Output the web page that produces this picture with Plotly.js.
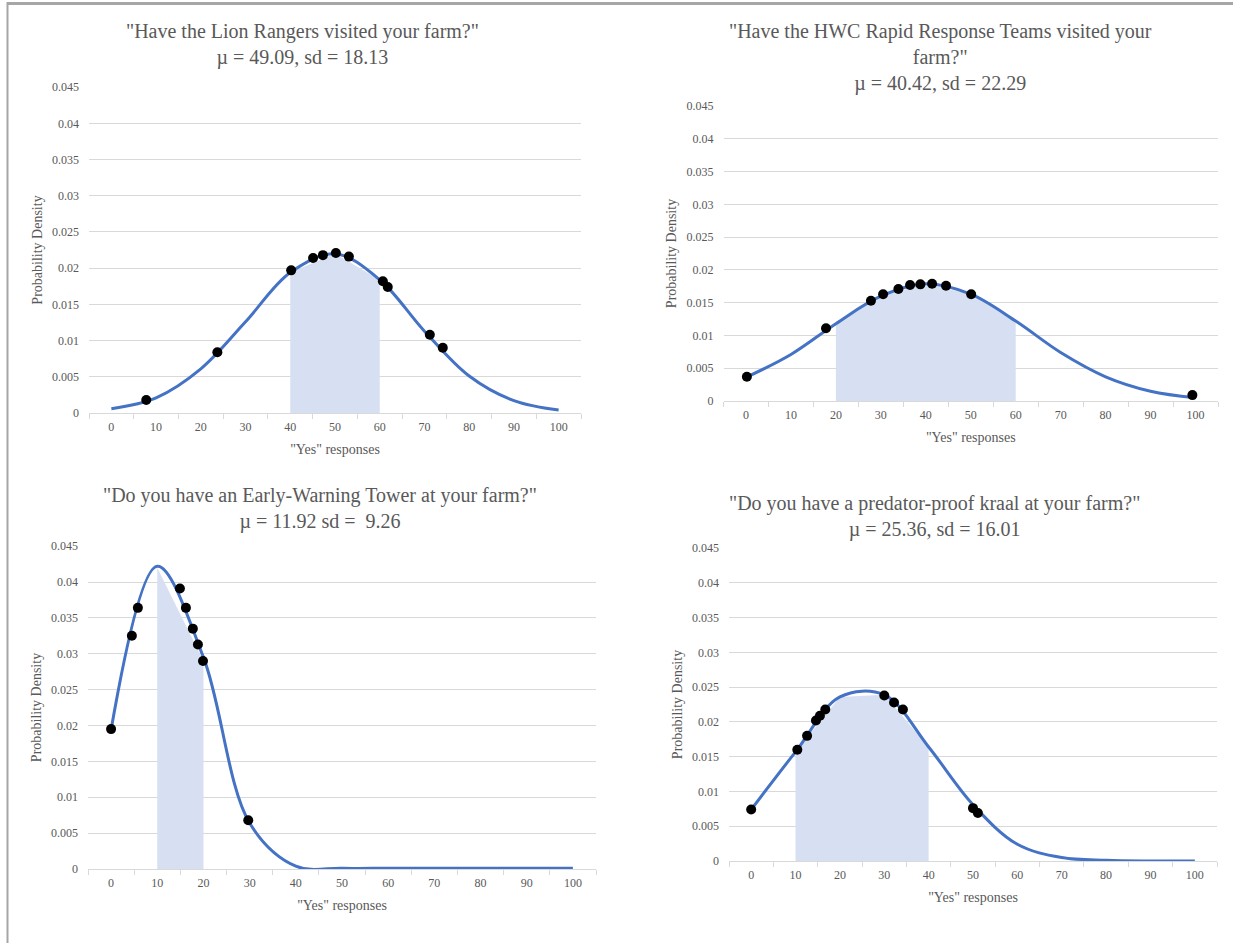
<!DOCTYPE html>
<html>
<head>
<meta charset="utf-8">
<script src="https://cdn.plot.ly/plotly-3.0.1.min.js"></script>
<style>
  html, body { margin: 0; padding: 0; background: #ffffff; }
  #chart { width: 1233px; height: 943px; }
</style>
</head>
<body>
<div id="chart"></div>
<script>
// ---------- data ----------
const xCategories = [0, 10, 20, 30, 40, 50, 60, 70, 80, 90, 100];
const yTickVals = [0, 0.005, 0.01, 0.015, 0.02, 0.025, 0.03, 0.035, 0.04, 0.045];
const yTickText = ['0', '0.005', '0.01', '0.015', '0.02', '0.025', '0.03', '0.035', '0.04', '0.045'];

// Panel 1: Lion Rangers
const lionTitle = '"Have the Lion Rangers visited your farm?"<br>\u00b5 = 49.09, sd = 18.13';
const lionCurve = [0.0006, 0.0021, 0.0061, 0.0126, 0.0194, 0.0220, 0.0184, 0.0113, 0.0051, 0.0017, 0.0004];
const lionShadeX = [40, 50, 60];
const lionShadeY = [0.0194, 0.0220, 0.0184];
const lionDotX = [7.8, 23.7, 40.2, 45.1, 47.3, 50.2, 53.1, 60.7, 61.8, 71.2, 74.1];
const lionDotY = [0.0018, 0.0084, 0.0197, 0.0214, 0.0218, 0.0221, 0.0216, 0.0182, 0.0174, 0.0108, 0.0090];

// Panel 2: HWC Rapid Response Teams
const hwcTitle = '"Have the HWC Rapid Response Teams visited your<br>farm?"<br>\u00b5 = 40.42, sd = 22.29';
const hwcCurve = [0.0036, 0.0071, 0.0118, 0.0160, 0.0179, 0.0163, 0.0122, 0.0074, 0.0037, 0.0015, 0.0005];
const hwcShadeX = [20, 30, 40, 50, 60];
const hwcShadeY = [0.0118, 0.0160, 0.0179, 0.0163, 0.0122];
const hwcDotX = [0.2, 17.8, 27.8, 30.5, 33.9, 36.5, 38.8, 41.4, 44.5, 50.1, 99.3];
const hwcDotY = [0.0037, 0.0111, 0.0153, 0.0163, 0.0171, 0.0177, 0.0178, 0.0179, 0.0176, 0.0163, 0.0009];

// Panel 3: Early-Warning Tower
const towerTitle = '"Do you have an Early-Warning Tower at your farm?"<br>\u00b5 = 11.92 sd =  9.26';
const towerCurve = [0.0194, 0.0422, 0.0295, 0.0064, 0.0004, 0.0001, 0.0001, 0.0001, 0.0001, 0.0001, 0.0001];
const towerShadeX = [10, 20];
const towerShadeY = [0.0420, 0.0290];
const towerDotX = [0, 4.5, 5.8, 14.9, 16.2, 17.7, 18.8, 19.9, 29.7];
const towerDotY = [0.0195, 0.0325, 0.0364, 0.0391, 0.0364, 0.0335, 0.0313, 0.0290, 0.0068];

// Panel 4: predator-proof kraal
const kraalTitle = '"Do you have a predator-proof kraal at your farm?"<br>\u00b5 = 25.36, sd = 16.01';
const kraalCurve = [0.0074, 0.0157, 0.0236, 0.0239, 0.0164, 0.0081, 0.0024, 0.0005, 0.0001, 0.0000, 0.0000];
const kraalShadeX = [10, 20, 30, 40];
const kraalShadeY = [0.0157, 0.0236, 0.0239, 0.0164];
const kraalDotX = [0, 10.4, 12.6, 14.6, 15.5, 16.7, 30.0, 32.2, 34.2, 50.0, 51.1];
const kraalDotY = [0.0074, 0.0160, 0.0180, 0.0202, 0.0209, 0.0218, 0.0238, 0.0228, 0.0218, 0.0076, 0.0069];

const xTitleText = '"Yes" responses';
const yTitleText = 'Probability Density';

// ---------- styling ----------
const W = 1233, H = 943;
const serif = 'Liberation Serif, Times New Roman, serif';
const txtColor = '#595959';
const lineBlue = '#4472C4';
const shadeBlue = '#D6E0F2';
const gridCol = '#D9D9D9';

// pixel boxes of the four plot areas: [left, right, top, bottom]
const boxes = [
  [89, 581, 87, 413],
  [723.5, 1218, 106, 401],
  [88, 596, 546, 869],
  [729, 1217, 548, 861]
];
const titlePos = [[302, 44], [940, 57], [320, 508], [934, 516]];

const panels = [
  {title: lionTitle, curve: lionCurve, sx: lionShadeX, sy: lionShadeY, dx: lionDotX, dy: lionDotY},
  {title: hwcTitle, curve: hwcCurve, sx: hwcShadeX, sy: hwcShadeY, dx: hwcDotX, dy: hwcDotY},
  {title: towerTitle, curve: towerCurve, sx: towerShadeX, sy: towerShadeY, dx: towerDotX, dy: towerDotY},
  {title: kraalTitle, curve: kraalCurve, sx: kraalShadeX, sy: kraalShadeY, dx: kraalDotX, dy: kraalDotY}
];

const data = [];
const layout = {
  width: W, height: H,
  margin: {l: 0, r: 0, t: 0, b: 0},
  paper_bgcolor: '#ffffff',
  plot_bgcolor: '#ffffff',
  showlegend: false,
  font: {family: serif, color: txtColor, size: 12},
  annotations: [],
  shapes: [
    {type: 'line', xref: 'paper', yref: 'paper', x0: 7 / W, x1: 1, y0: 1 - 3.5 / H, y1: 1 - 3.5 / H,
     line: {color: '#A6A6A6', width: 3}},
    {type: 'line', xref: 'paper', yref: 'paper', x0: 7.5 / W, x1: 7.5 / W, y0: 0, y1: 1 - 2 / H,
     line: {color: '#A6A6A6', width: 2}}
  ]
};

panels.forEach((p, i) => {
  const n = i + 1;
  const xa = 'x' + (n === 1 ? '' : n);
  const ya = 'y' + (n === 1 ? '' : n);
  const b = boxes[i];

  data.push({
    x: p.sx, y: p.sy, xaxis: xa, yaxis: ya, type: 'scatter', mode: 'lines',
    fill: 'tozeroy', fillcolor: shadeBlue, line: {width: 0, color: shadeBlue}, hoverinfo: 'skip'
  });
  data.push({
    x: xCategories, y: p.curve, xaxis: xa, yaxis: ya, type: 'scatter', mode: 'lines',
    line: {color: lineBlue, width: 3, shape: 'spline', smoothing: 1}
  });
  data.push({
    x: p.dx, y: p.dy, xaxis: xa, yaxis: ya, type: 'scatter', mode: 'markers',
    marker: {color: '#000000', size: 10}, cliponaxis: false
  });

  const xKey = 'xaxis' + (n === 1 ? '' : n);
  const yKey = 'yaxis' + (n === 1 ? '' : n);
  layout[xKey] = {
    domain: [b[0] / W, b[1] / W],
    anchor: ya,
    range: [-5, 105],
    tickmode: 'array', tickvals: xCategories, ticktext: xCategories.map(String),
    ticks: '', showgrid: false, zeroline: false,
    showline: true, linecolor: gridCol, linewidth: 1,
    ticklabelstandoff: 3,
    tickfont: {family: serif, size: 12, color: txtColor},
    minor: {tickmode: 'linear', tick0: -5, dtick: 10, ticks: 'outside', ticklen: 5,
            tickcolor: gridCol, tickwidth: 1, showgrid: false},
    title: {text: xTitleText, font: {family: serif, size: 14, color: txtColor}, standoff: 10},
    fixedrange: true
  };
  layout[yKey] = {
    domain: [1 - b[3] / H, 1 - b[2] / H],
    anchor: xa,
    range: [0, 0.04502],
    tickmode: 'array', tickvals: yTickVals, ticktext: yTickText,
    showgrid: true, gridcolor: gridCol, gridwidth: 1,
    zeroline: false, showline: false, ticks: '',
    ticklabelstandoff: 9,
    tickfont: {family: serif, size: 12, color: txtColor},
    title: {text: yTitleText, font: {family: serif, size: 14, color: txtColor}, standoff: 6},
    fixedrange: true
  };

  layout.annotations.push({
    xref: 'paper', yref: 'paper',
    x: titlePos[i][0] / W, y: 1 - titlePos[i][1] / H,
    xanchor: 'center', yanchor: 'middle',
    text: p.title, showarrow: false, align: 'center',
    font: {family: serif, size: 20, color: txtColor}
  });
});

Plotly.newPlot('chart', data, layout, {displayModeBar: false, staticPlot: true});
</script>
</body>
</html>
